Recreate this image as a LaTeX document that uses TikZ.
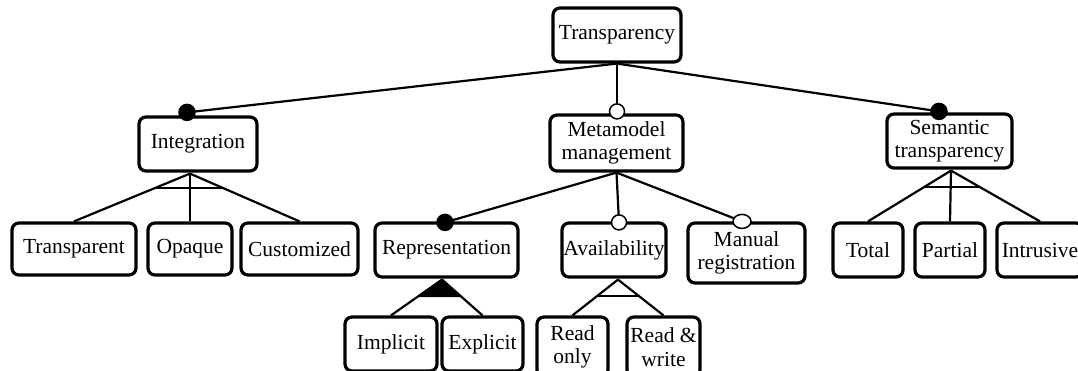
\documentclass[tikz,border=0pt]{standalone}
\usepackage{fontspec}
\setmainfont{Liberation Serif}
\usetikzlibrary{calc,shapes.geometric}
\begin{document}
\begin{tikzpicture}[x=1pt,y=-1pt,
  feat/.style={draw, line width=3.2pt, rounded corners=7pt, fill=white,
    inner sep=0pt, align=center, font=\fontsize{21.5}{23.5}\selectfont},
  link/.style={line width=2.2pt},
  mand/.style={circle, draw, line width=1.5pt, fill=black, minimum size=16pt, inner sep=0pt},
  opt/.style={circle, draw, line width=1.5pt, fill=white, minimum size=15pt, inner sep=0pt},
  optw/.style={ellipse, draw, line width=1.5pt, fill=white, minimum width=18pt, minimum height=14pt, inner sep=0pt}]
\useasboundingbox (0,0) rectangle (1078,371);
\clip (0,0) rectangle (1078,371);

% feature boxes (centre, width, height)
\newcommand{\feature}[6]{\node[feat, minimum width=#4pt, minimum height=#5pt] (#1) at (#2,#3) {#6};}
\feature{root}{617}{35}{128}{54}{Transparency}
\feature{integ}{198}{144}{118}{54}{Integration}
\feature{meta}{616.5}{143}{133}{56}{Metamodel\\management}
\feature{sem}{949.5}{141}{125}{54}{Semantic\\transparency}
\feature{transp}{74}{249}{124}{52}{Transparent}
\feature{opaque}{190}{249}{84}{52}{Opaque}
\feature{custom}{299.5}{249}{117}{52}{Customized}
\feature{repr}{446.5}{250}{143}{54}{Representation}
\feature{avail}{614}{250}{104}{54}{Availability}
\feature{manual}{746.5}{253}{117}{60}{Manual\\registration}
\feature{total}{868}{250}{70}{54}{Total}
\feature{partial}{950}{250}{70}{54}{Partial}
\feature{intr}{1040}{250}{86}{54}{Intrusive}
\feature{impl}{391}{344}{92}{54}{Implicit}
\feature{expl}{482.5}{344}{81}{54}{Explicit}
\feature{ronly}{572.5}{347}{71}{60}{Read\\only}
\feature{rw}{663.5}{347}{73}{60}{Read \&\\write}

% group anchors below the parents
\coordinate (integ-g) at ($(integ.south)+(-8,1)$);
\coordinate (repr-g) at ($(repr.south)+(-4.5,1)$);
\coordinate (avail-g) at ($(avail.south)+(4,1)$);
\coordinate (sem-g) at ($(sem.south)+(1.5,1)$);
\coordinate (meta-g) at ($(meta.south)+(0,0)$);
\coordinate (root-g) at ($(root.south)+(0,0)$);

% mandatory / optional markers on the children
\coordinate (integ-m) at ($(integ.north)+(-11,-3)$);
\coordinate (meta-m) at ($(meta.north)+(0.5,-2)$);
\coordinate (sem-m) at ($(sem.north)+(-10.5,-1)$);
\coordinate (repr-m) at ($(repr.north)+(-1.5,1)$);
\coordinate (avail-m) at ($(avail.north)+(5,1)$);
\coordinate (manual-m) at ($(manual.north)+(-4.5,0)$);

% links from the root
\draw[link] (root-g) -- (integ-m);
\draw[link] (root-g) -- (meta-m);
\draw[link] (root-g) -- (sem-m);
% links from metamodel management
\draw[link] (meta-g) -- (repr-m);
\draw[link] (meta-g) -- (avail-m);
\draw[link] (meta-g) -- (manual-m);

% alternative group: integration
\draw[link] (integ-g) -- (transp.north);
\draw[link] (integ-g) -- (opaque.north);
\draw[link] (integ-g) -- (custom.north);
\draw[link] ($(integ-g)!0.294!(transp.north)$) -- ($(integ-g)!0.294!(custom.north)$);

% alternative group: semantic transparency
\draw[link] (sem-g) -- (total.north);
\draw[link] (sem-g) -- (partial.north);
\draw[link] (sem-g) -- (intr.north);
\draw[link] ($(sem-g)!0.32!(total.north)$) -- ($(sem-g)!0.32!(intr.north)$);

% alternative group: availability
\draw[link] (avail-g) -- (ronly.north);
\draw[link] (avail-g) -- (rw.north);
\draw[link] ($(avail-g)!0.46!(ronly.north)$) -- ($(avail-g)!0.46!(rw.north)$);

% or group: representation
\draw[link] (repr-g) -- (impl.north);
\draw[link] (repr-g) -- (expl.north);
\fill[black] (repr-g) -- ($(repr-g)!0.49!(impl.north)$) -- ($(repr-g)!0.49!(expl.north)$) -- cycle;

% markers
\node[mand] (integ-c) at (integ-m) {};
\node[opt] (meta-c) at (meta-m) {};
\node[mand] (sem-c) at (sem-m) {};
\node[mand] (repr-c) at (repr-m) {};
\node[opt] (avail-c) at (avail-m) {};
\node[optw] (manual-c) at (manual-m) {};
\end{tikzpicture}
\end{document}
